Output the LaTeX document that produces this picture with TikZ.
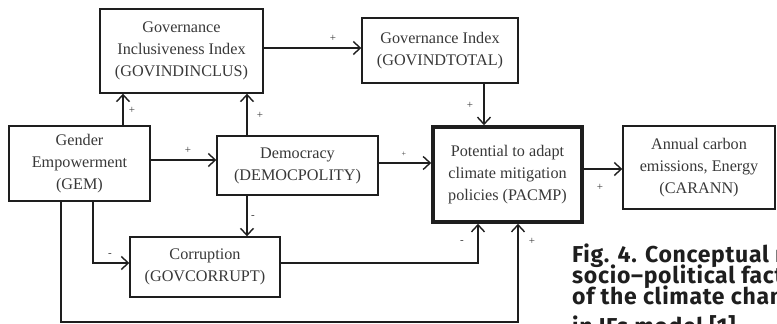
\documentclass[tikz,border=0pt]{standalone}
\usepackage{fontspec}
\setmainfont{Liberation Serif}
\newfontfamily\capfont[LetterSpace=3]{Fira Sans}
\usetikzlibrary{arrows.meta,calc}
\definecolor{ink}{HTML}{1E1E1E}
\definecolor{txt}{HTML}{383838}
\begin{document}
\begin{tikzpicture}[x=1pt,y=-1pt,
  box/.style={draw=ink,line width=1.4pt,text=txt,align=center,inner sep=0pt,
    font=\fontsize{16.2}{22}\selectfont},
  thick box/.style={box,line width=3.6pt},
  arr/.style={draw=ink,line width=1.4pt,-{Straight Barb[length=7pt,width=13pt,line width=1.4pt]}},
  sgn/.style={text=txt,font=\fontsize{11}{11}\selectfont,inner sep=0pt},
  capline/.style={anchor=base west,inner sep=0pt,text=ink,
    font=\capfont\bfseries\fontsize{23}{23}\selectfont}]
\useasboundingbox (0,0) rectangle (777,324);
\clip (0,0) rectangle (777,324);
\node[box,minimum width=163pt,minimum height=84pt] (incl) at (181.5,51) {Governance\\Inclusiveness Index\\(GOVINDINCLUS)};
\node[box,minimum width=156pt,minimum height=65pt] (gidx) at (440,50.5) {Governance Index\\(GOVINDTOTAL)};
\node[box,minimum width=141pt,minimum height=75pt] (gem) at (79.5,163.5) {Gender\\Empowerment\\(GEM)};
\node[box,minimum width=161pt,minimum height=59pt] (dem) at (297.5,165.5) {Democracy\\(DEMOCPOLITY)};
\node[box,minimum width=150pt,minimum height=60pt] (cor) at (205,267) {Corruption\\(GOVCORRUPT)};
\node[thick box,minimum width=149pt,minimum height=95pt] (pac) at (507.5,174.5) {Potential to adapt\\climate mitigation\\policies (PACMP)};
\node[box,minimum width=152pt,minimum height=83pt] (car) at (699,167.5) {Annual carbon\\emissions, Energy\\(CARANN)};

\draw[arr] (incl.east |- 0,48) -- (gidx.west |- 0,48);
\draw[arr] (gidx.south -| 484,0) -- (pac.north -| 484,0);
\draw[arr] (gem.north -| 123,0) -- (incl.south -| 123,0);
\draw[arr] (dem.north -| 247,0) -- (incl.south -| 247,0);
\draw[arr] (gem.east |- 0,160) -- (dem.west |- 0,160);
\draw[arr] (dem.east |- 0,163) -- (pac.west |- 0,163);
\draw[arr] (dem.south -| 247,0) -- (cor.north -| 247,0);
\draw[arr] (gem.south -| 93,0) |- (cor.west |- 0,263);
\draw[arr] (cor.east |- 0,263) -| (pac.south -| 478,0);
\draw[arr] (gem.south -| 61,0) -- (61,322) -| (pac.south -| 518,0);
\draw[arr] (pac.east |- 0,169) -- (car.west |- 0,169);

\node[sgn] (s1) at (333,38) {+};
\node[sgn] (s2) at (470,105) {+};
\node[sgn] (s3) at (132,110) {+};
\node[sgn] (s4) at (260,115) {+};
\node[sgn] (s5) at (188,150) {+};
\node[sgn,font=\fontsize{8}{8}\selectfont] (s6) at (404,154) {+};
\node[sgn] (s7) at (253,217) {-};
\node[sgn] (s8) at (110,255) {-};
\node[sgn] (s9) at (462,242) {-};
\node[sgn] (s10) at (532,241) {+};
\node[sgn] (s11) at (600,187) {+};

\node[capline] (cap1) at (572,262) {Fig. 4. Conceptual r};
\node[capline] (cap2) at (572,283) {socio–political factor};
\node[capline] (cap3) at (572,304) {of the climate chang};
\node[capline] (cap4) at (572,334) {in IFs model [1]};
\end{tikzpicture}
\end{document}
